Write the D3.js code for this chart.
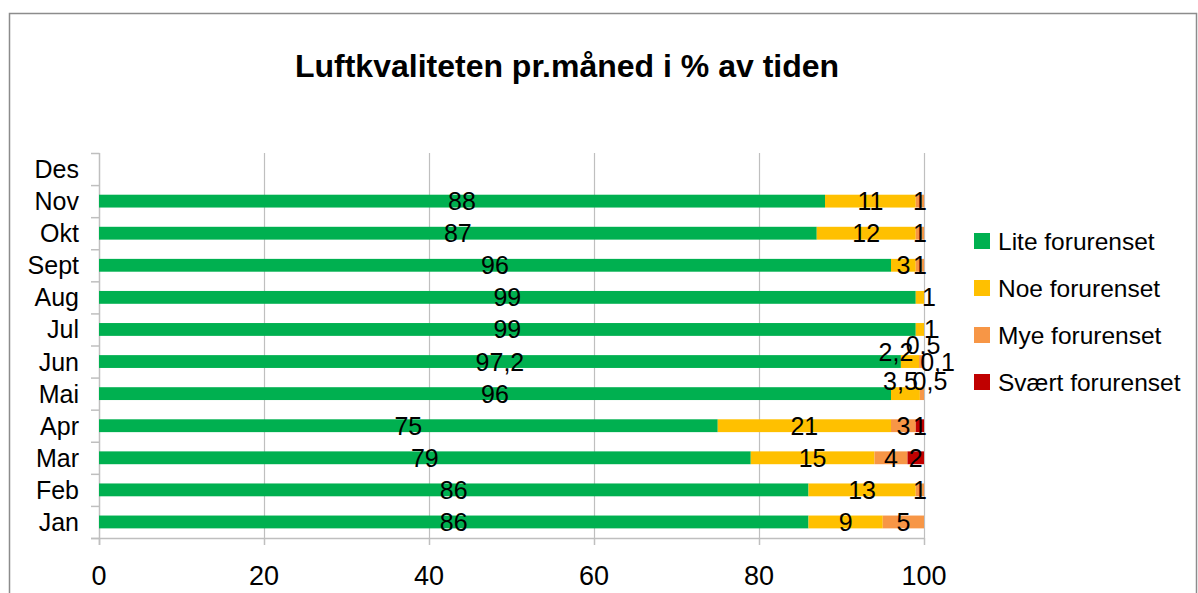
<!DOCTYPE html>
<html lang="no">
  <head>
    <meta charset="utf-8" />
    <script src="https://d3js.org/d3.v7.min.js"></script>
    <style type="text/css">
        body { margin:0; background:#fff; }
        text { font-family:"Liberation Sans", Arial, sans-serif; fill:#000; }
    </style>
    <title>Luftkvaliteten</title>
  </head>
  <body>
    <svg></svg>
  </body>
  <script type="text/javascript">

    var months = ['Jan', 'Feb', 'Mar', 'Apr', 'Mai', 'Jun', 'Jul', 'Aug', 'Sept', 'Okt', 'Nov', 'Des'];
    var seriesNames = ['Lite forurenset', 'Noe forurenset', 'Mye forurenset', 'Svært forurenset'];
    var lite   = [86, 86, 79, 75, 96, 97.2, 99, 99, 96, 87, 88, null];
    var noe    = [9, 13, 15, 21, 3.5, 2.2, 1, 1, 3, 12, 11, null];
    var mye    = [5, 1, 4, 3, 0.5, 0.5, 0, 0, 1, 1, 1, null];
    var svaert = [0, 0, 2, 1, 0, 0.1, 0, 0, 0, 0, 0, null];
    var xTicks = [0, 20, 40, 60, 80, 100];

    var colors = ['#00B050', '#FFC000', '#F79646', '#C00000'];

    // hand-moved labels, like in the original sheet
    var labelShift = {
        'Jun|1': [-14, -10], 'Jun|2': [2, -17], 'Jun|3': [14, 0],
        'Mai|1': [-5, -13], 'Mai|2': [8, -13],
        'Jul|1': [11, 0], 'Aug|1': [9, 0]
    };

    var w = 1198,
        h = 593;

    var rows = months.map(function(m, i) {
        return { month: m, s0: lite[i] || 0, s1: noe[i] || 0, s2: mye[i] || 0, s3: svaert[i] || 0 };
    });

    var svg = d3.select('svg')
                .attr('width', w)
                .attr('height', h);

    // chart frame
    svg.append('rect')
       .attr('x', 9.5).attr('y', 13.5)
       .attr('width', 1187).attr('height', 600)
       .attr('fill', 'none')
       .attr('stroke', '#8c8c8c')
       .attr('stroke-width', 1.5);

    svg.append('text')
       .attr('x', 567)
       .attr('y', 77)
       .attr('text-anchor', 'middle')
       .style('font-size', '32px')
       .style('font-weight', 'bold')
       .text('Luftkvaliteten pr.måned i % av tiden');

    var xScale = d3.scaleLinear()
                   .domain([0, 100])
                   .range([99, 924]);
    var yScale = d3.scaleBand()
                   .domain(months.slice().reverse())
                   .range([153, 538])
                   .paddingInner(0.6)
                   .paddingOuter(0.3);

    // gridlines
    svg.append('g')
       .selectAll('line')
       .data(xTicks.slice(1))
       .enter()
       .append('line')
       .attr('x1', function(d) { return xScale(d) + 0.5; })
       .attr('x2', function(d) { return xScale(d) + 0.5; })
       .attr('y1', 153)
       .attr('y2', 538)
       .attr('stroke', '#bfbfbf')
       .attr('stroke-width', 1.2);

    // y axis with ticks between categories
    var yAxis = svg.append('g');
    yAxis.append('line')
         .attr('x1', 99.5).attr('x2', 99.5)
         .attr('y1', 153).attr('y2', 545)
         .attr('stroke', '#bfbfbf').attr('stroke-width', 1.5);
    yAxis.selectAll('line.tick')
         .data(d3.range(months.length + 1))
         .enter()
         .append('line')
         .attr('class', 'tick')
         .attr('x1', 91).attr('x2', 99.5)
         .attr('y1', function(i) { return 153 + i * (538 - 153) / months.length + 0.5; })
         .attr('y2', function(i) { return 153 + i * (538 - 153) / months.length + 0.5; })
         .attr('stroke', '#bfbfbf').attr('stroke-width', 1.5);
    yAxis.selectAll('text')
         .data(months)
         .enter()
         .append('text')
         .attr('x', 79)
         .attr('y', function(d) { return yScale(d) + yScale.bandwidth() / 2; })
         .attr('dy', '0.36em')
         .attr('text-anchor', 'end')
         .style('font-size', '25px')
         .text(function(d) { return d; });

    // x axis
    var xAxis = svg.append('g');
    xAxis.append('line')
         .attr('x1', 91).attr('x2', 924.5)
         .attr('y1', 538.5).attr('y2', 538.5)
         .attr('stroke', '#bfbfbf').attr('stroke-width', 1.5);
    xAxis.selectAll('line.tick')
         .data(xTicks)
         .enter()
         .append('line')
         .attr('class', 'tick')
         .attr('x1', function(d) { return xScale(d) + 0.5; })
         .attr('x2', function(d) { return xScale(d) + 0.5; })
         .attr('y1', 538).attr('y2', 545)
         .attr('stroke', '#bfbfbf').attr('stroke-width', 1.5);
    xAxis.selectAll('text')
         .data(xTicks)
         .enter()
         .append('text')
         .attr('x', function(d) { return xScale(d); })
         .attr('y', 585)
         .attr('text-anchor', 'middle')
         .style('font-size', '27px')
         .text(function(d) { return d; });

    var stack = d3.stack().keys(['s0', 's1', 's2', 's3']);
    var layers = stack(rows);
    var fmt = function(v) { return String(v).replace('.', ','); };

    var layer = svg.selectAll('g.layer')
                   .data(layers)
                   .enter()
                   .append('g')
                   .attr('class', 'layer')
                   .attr('fill', function(d, i) { return colors[i]; });

    layer.selectAll('rect')
         .data(function(d) { return d.filter(function(p) { return p[1] - p[0] > 0; }); })
         .enter()
         .append('rect')
         .attr('x', function(d) { return xScale(d[0]); })
         .attr('y', function(d) { return yScale(d.data.month); })
         .attr('width', function(d) { return xScale(d[1]) - xScale(d[0]); })
         .attr('height', yScale.bandwidth());

    layers.forEach(function(L, si) {
        svg.append('g')
           .selectAll('text')
           .data(L.filter(function(p) { return p[1] - p[0] > 0; }))
           .enter()
           .append('text')
           .attr('x', function(d) {
               var s = labelShift[d.data.month + '|' + si] || [0, 0];
               return xScale((d[0] + d[1]) / 2) + s[0];
           })
           .attr('y', function(d) {
               var s = labelShift[d.data.month + '|' + si] || [0, 0];
               return yScale(d.data.month) + yScale.bandwidth() / 2 + s[1];
           })
           .attr('dy', '0.36em')
           .attr('text-anchor', 'middle')
           .style('font-size', '25px')
           .text(function(d) { return fmt(+(d[1] - d[0]).toFixed(1)); });
    });

    // legend
    var legend = svg.append('g')
                    .selectAll('g')
                    .data(seriesNames)
                    .enter()
                    .append('g')
                    .attr('transform', function(d, i) { return 'translate(974,' + (241 + i * 47) + ')'; });
    legend.append('rect')
          .attr('x', 0).attr('y', -8)
          .attr('width', 16).attr('height', 16)
          .attr('fill', function(d, i) { return colors[i]; });
    legend.append('text')
          .attr('x', 24)
          .attr('dy', '0.36em')
          .style('font-size', '24.5px')
          .text(function(d) { return d; });
  </script>
</html>
